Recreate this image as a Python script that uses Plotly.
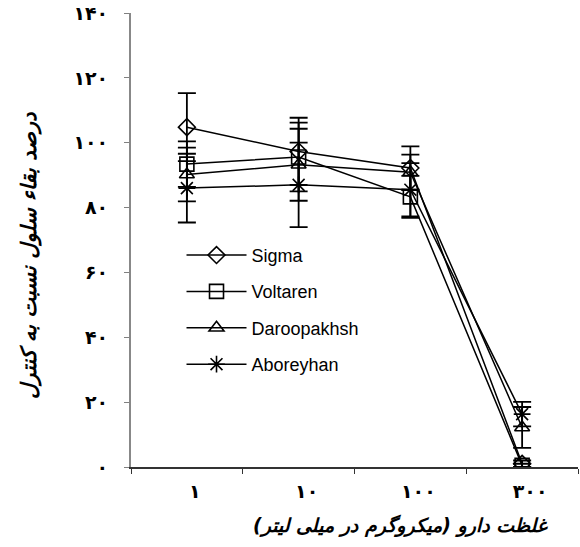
import plotly.graph_objects as go

categories = ["1", "10", "100", "300"]
x_tick_labels = ["۱", "۱۰", "۱۰۰", "۳۰۰"]
y_tick_values = [0, 20, 40, 60, 80, 100, 120, 140]
y_tick_labels = ["۰", "۲۰", "۴۰", "۶۰", "۸۰", "۱۰۰", "۱۲۰", "۱۴۰"]

series_names = ["Sigma", "Voltaren", "Daroopakhsh", "Aboreyhan"]
sigma = [104.8, 97.3, 92.2, 1.0]
sigma_err = [10.5, 10.4, 6.7, 1.0]
voltaren = [93.4, 95.6, 83.3, 0.5]
voltaren_err = [7.0, 10.6, 6.5, 0.5]
daroopakhsh = [90.2, 93.2, 90.9, 12.2]
daroopakhsh_err = [8.3, 11.1, 5.4, 6.3]
aboreyhan = [86.0, 87.0, 85.5, 16.3]
aboreyhan_err = [10.6, 13.0, 8.2, 3.8]

values = [sigma, voltaren, daroopakhsh, aboreyhan]
errors = [sigma_err, voltaren_err, daroopakhsh_err, aboreyhan_err]
symbols = ["diamond-open", "square-open", "triangle-up-open", "asterisk-open"]
sizes = [13, 14, 13, 14]

x_title = "\u200fغلظت دارو (میکروگرم در میلی لیتر)\u200f"
y_title = "\u200fدرصد بقاء سلول نسبت به کنترل\u200f"

fa_font = "DejaVu Sans"

fig = go.Figure()
for i, name in enumerate(series_names):
    fig.add_trace(go.Scatter(
        x=categories, y=values[i], name=name, mode="lines+markers",
        legendgroup=name,
        line=dict(color="black", width=1.5),
        marker=dict(symbol=symbols[i], size=sizes[i], color="black",
                    line=dict(color="black", width=1.6)),
        error_y=dict(type="data", array=errors[i], visible=True,
                     color="black", thickness=1.8, width=9),
    ))

fig.update_layout(
    width=580, height=547,
    margin=dict(l=131, r=2, t=13, b=80),
    paper_bgcolor="white", plot_bgcolor="white",
    showlegend=True,
    legend=dict(x=0.113, y=0.507, xanchor="left", yanchor="top",
                bgcolor="rgba(0,0,0,0)", tracegroupgap=10,
                font=dict(family="Liberation Sans", size=18, color="black"),
                itemwidth=60),
    xaxis=dict(type="category", range=[-0.5, 3.5], tickson="boundaries",
               tickmode="array", tickvals=categories, ticktext=x_tick_labels,
               ticks="outside", ticklen=5, tickcolor="#333333", tickwidth=1,
               showline=True, linecolor="#333333", linewidth=1.5,
               showgrid=False, zeroline=False,
               tickfont=dict(family=fa_font, size=19, color="black", weight="bold"),
               ticklabelstandoff=6, ticklabelshift=8),
    yaxis=dict(range=[0, 140], tickmode="array", tickvals=y_tick_values,
               ticktext=y_tick_labels, ticks="outside", ticklen=5,
               tickcolor="#808080", tickwidth=1,
               showline=True, linecolor="#888888", linewidth=2,
               showgrid=False, zeroline=False,
               tickfont=dict(family=fa_font, size=19, color="black", weight="bold"),
               ticklabelstandoff=12),
)

fig.add_annotation(text=y_title, xref="paper", yref="paper",
                   x=-0.226, y=0.467, xanchor="center", yanchor="middle",
                   textangle=-90, showarrow=False,
                   font=dict(family=fa_font, size=21, color="black",
                             weight="bold", style="italic"))

fig.add_annotation(text=x_title, xref="paper", yref="paper",
                   x=0.604, y=-0.128, xanchor="center", yanchor="middle",
                   showarrow=False,
                   font=dict(family=fa_font, size=19, color="black",
                             weight="bold", style="italic"))

fig.write_html("out.html", config={"displayModeBar": False},
               post_script="document.body.style.margin='0';")
